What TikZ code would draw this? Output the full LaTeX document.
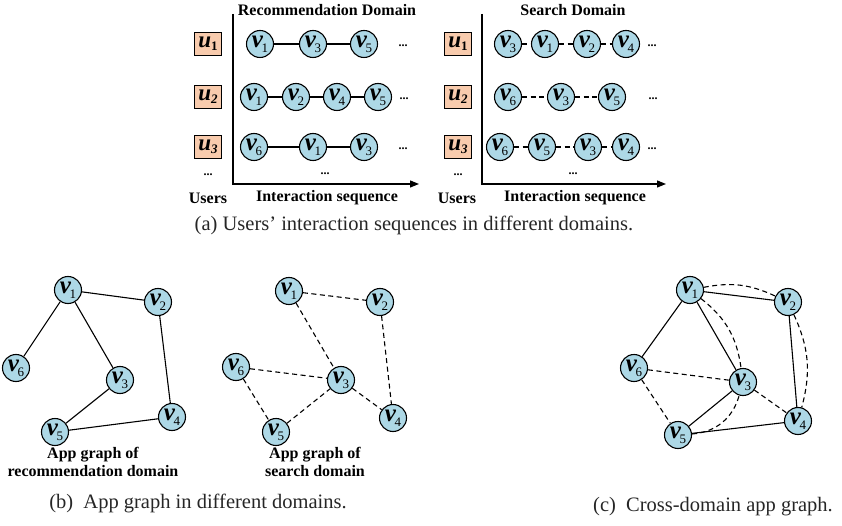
\documentclass[tikz,border=0pt]{standalone}
\usepackage{fontspec}
\newfontfamily\tnr{Liberation Serif}
\usetikzlibrary{arrows.meta}
\definecolor{nodeblue}{RGB}{173,216,230}
\definecolor{userpeach}{RGB}{248,203,173}
\newcommand\vlab[1]{{\fontsize{25}{25}\selectfont\bfseries\itshape v}\kern-1.5pt{\fontsize{13}{13}\selectfont\raisebox{-5pt}{#1}}}
\newcommand\ulab[1]{{\fontsize{23}{23}\selectfont\bfseries\itshape u}\kern0pt{\fontsize{13}{13}\selectfont\bfseries\raisebox{-3pt}{#1}}}
\tikzset{
  app/.style={circle, draw, fill=nodeblue, line width=1.1pt, minimum size=27pt, inner sep=0pt, font=\tnr},
  usr/.style={rectangle, draw, fill=userpeach, line width=1pt, minimum width=27pt, minimum height=23pt, inner sep=0pt, font=\tnr},
  lbl/.style={font={\tnr\bfseries\fontsize{16}{18}\selectfont}, align=center, inner sep=0pt},
  captxt/.style={font={\tnr\fontsize{20.5}{22}\selectfont}, inner sep=0pt, text=black!85},
  dotlbl/.style={font={\tnr\bfseries\fontsize{12}{12}\selectfont}, inner sep=0pt},
  solidln/.style={line width=1.1pt},
  dashln/.style={line width=1.1pt, dash pattern=on 5pt off 3.5pt},
  axisln/.style={line width=1.2pt, -{Triangle[length=9pt,width=7pt]}}
}
\begin{document}
\begin{tikzpicture}[x=1pt,y=-1pt]
\useasboundingbox (0,0) rectangle (842,526);
% ---------- (a) ----------
\node[lbl] (rtitle) at (327,10) {Recommendation Domain};
\node[lbl] (stitle) at (573,10) {Search Domain};
\coordinate (rax0) at (233,14);
\coordinate (rax1) at (419,184);
\draw[axisln] (rax0) |- (rax1);
\coordinate (sax0) at (482,14);
\coordinate (sax1) at (666,184);
\draw[axisln] (sax0) |- (sax1);
% users
\node[usr] (ru1) at (208,44) {\ulab{1}};
\node[usr] (ru2) at (208,97) {\ulab{\itshape 2}};
\node[usr] (ru3) at (208,147) {\ulab{\itshape 3}};
\node[dotlbl] (rud) at (208,175) {...};
\node[usr] (su1) at (458,44) {\ulab{1}};
\node[usr] (su2) at (458,97) {\ulab{\itshape 2}};
\node[usr] (su3) at (458,147) {\ulab{\itshape 3}};
\node[dotlbl] (sud) at (458,175) {...};
% rec rows
\node[app] (r11) at (260,44) {\vlab{1}};
\node[app] (r12) at (313,44) {\vlab{3}};
\node[app] (r13) at (364,44) {\vlab{5}};
\node[dotlbl] (r1d) at (403,46) {...};
\node[app] (r21) at (254,97) {\vlab{1}};
\node[app] (r22) at (296,97) {\vlab{2}};
\node[app] (r23) at (337,97) {\vlab{4}};
\node[app] (r24) at (378,97) {\vlab{5}};
\node[dotlbl] (r2d) at (404,99) {...};
\node[app] (r31) at (254,147) {\vlab{6}};
\node[app] (r32) at (313,147) {\vlab{1}};
\node[app] (r33) at (364,147) {\vlab{3}};
\node[dotlbl] (r3d) at (403,149) {...};
\node[dotlbl] (rmd) at (325,174) {...};
\draw[solidln] (r11) -- (r12) -- (r13);
\draw[solidln] (r21) -- (r22) -- (r23) -- (r24);
\draw[solidln] (r31) -- (r32) -- (r33);
% search rows
\node[app] (s11) at (508,44) {\vlab{3}};
\node[app] (s12) at (545,44) {\vlab{1}};
\node[app] (s13) at (587,44) {\vlab{2}};
\node[app] (s14) at (626,44) {\vlab{4}};
\node[dotlbl] (s1d) at (652,46) {...};
\node[app] (s21) at (508,97) {\vlab{6}};
\node[app] (s22) at (561,97) {\vlab{3}};
\node[app] (s23) at (612,97) {\vlab{5}};
\node[dotlbl] (s2d) at (653,99) {...};
\node[app] (s31) at (500,147) {\vlab{6}};
\node[app] (s32) at (542,147) {\vlab{5}};
\node[app] (s33) at (588,147) {\vlab{3}};
\node[app] (s34) at (626,147) {\vlab{4}};
\node[dotlbl] (s3d) at (652,149) {...};
\node[dotlbl] (smd) at (573,174) {...};
\draw[dashln] (s11) -- (s12) -- (s13) -- (s14);
\draw[dashln] (s21) -- (s22) -- (s23);
\draw[dashln] (s31) -- (s32) -- (s33) -- (s34);
% axis labels
\node[lbl] (rusers) at (208,198) {Users};
\node[lbl] (rint) at (327,198) {Interaction sequence};
\node[lbl] (susers) at (457,198) {Users};
\node[lbl] (sint) at (575,198) {Interaction sequence};
\node[captxt] (capa) at (414,225) {(a) Users\textquoteright{} interaction sequences in different domains.};
% ---------- (b) left graph ----------
\node[app] (a1) at (68,290) {\vlab{1}};
\node[app] (a2) at (158,302) {\vlab{2}};
\node[app] (a6) at (16,368) {\vlab{6}};
\node[app] (a3) at (120,380) {\vlab{3}};
\node[app] (a4) at (172,417) {\vlab{4}};
\node[app] (a5) at (55,432) {\vlab{5}};
\draw[solidln] (a1) -- (a2);
\draw[solidln] (a1) -- (a6);
\draw[solidln] (a1) -- (a3);
\draw[solidln] (a2) -- (a4);
\draw[solidln] (a3) -- (a5);
\draw[solidln] (a5) -- (a4);
\node[lbl] (alab) at (93,462) {App graph of\\recommendation domain};
% ---------- (b) middle graph ----------
\node[app] (b1) at (289,291) {\vlab{1}};
\node[app] (b2) at (380,302) {\vlab{2}};
\node[app] (b6) at (236,367) {\vlab{6}};
\node[app] (b3) at (341,380) {\vlab{3}};
\node[app] (b4) at (393,418) {\vlab{4}};
\node[app] (b5) at (276,432) {\vlab{5}};
\draw[dashln] (b1) -- (b2);
\draw[dashln] (b1) -- (b3);
\draw[dashln] (b2) -- (b4);
\draw[dashln] (b6) -- (b3);
\draw[dashln] (b3) -- (b4);
\draw[dashln] (b6) -- (b5);
\draw[dashln] (b5) -- (b3);
\node[lbl] (blab) at (315,462) {App graph of\\search domain};
\node[captxt] (capb) at (198,503) {(b)\enspace App graph in different domains.};
% ---------- (c) cross-domain graph ----------
\node[app] (c1) at (690,290) {\vlab{1}};
\node[app] (c2) at (788,302) {\vlab{2}};
\node[app] (c6) at (634,368) {\vlab{6}};
\node[app] (c3) at (743,382) {\vlab{3}};
\node[app] (c4) at (798,421) {\vlab{4}};
\node[app] (c5) at (678,435) {\vlab{5}};
\draw[solidln] (c1) -- (c2);
\draw[solidln] (c1) -- (c6);
\draw[solidln] (c1) -- (c3);
\draw[solidln] (c2) -- (c4);
\draw[solidln] (c3) -- (c5);
\draw[solidln] (c5) -- (c4);
\draw[dashln] (c1) to[bend left=18] (c2);
\draw[dashln] (c1) to[bend left=22] (c3);
\draw[dashln] (c2) to[bend left=20] (c4);
\draw[dashln] (c6) -- (c3);
\draw[dashln] (c3) -- (c4);
\draw[dashln] (c6) -- (c5);
\draw[dashln] (c5) to[bend right=35] (c3);
\node[captxt] (capc) at (713,507) {(c)\enspace Cross-domain app graph.};
\end{tikzpicture}
\end{document}
